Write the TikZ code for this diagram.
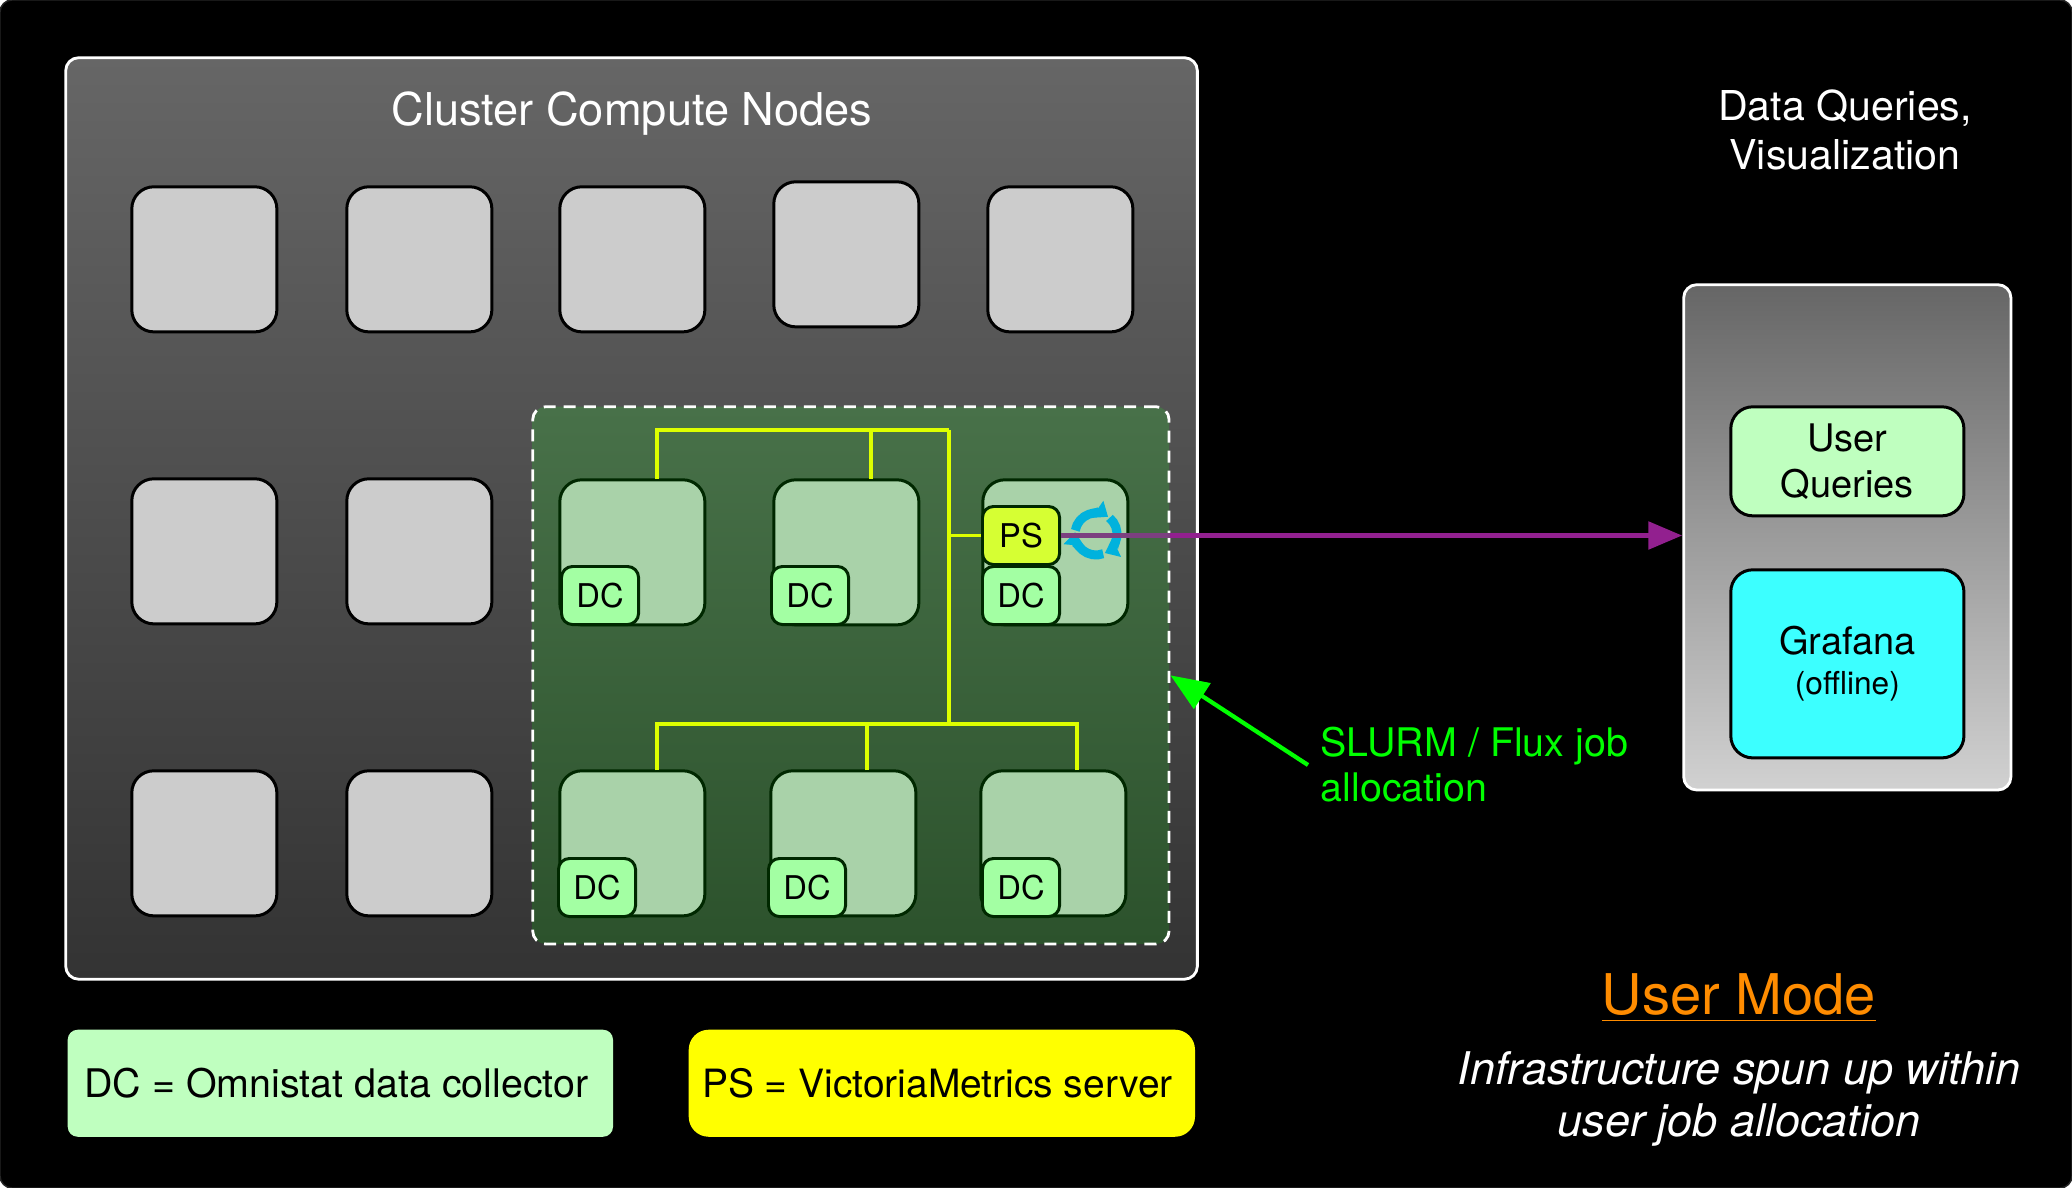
\documentclass[tikz,border=0pt]{standalone}
\usepackage{fontspec}
\setmainfont{TeX Gyre Heros}
\usetikzlibrary{arrows.meta}
\definecolor{nodegray}{HTML}{CCCCCC}
\definecolor{jobnode}{HTML}{A9D2A9}
\definecolor{jobedge}{HTML}{002800}
\definecolor{jobtop}{HTML}{487149}
\definecolor{jobbottom}{HTML}{2C522C}
\definecolor{dcfill}{HTML}{A3FFA3}
\definecolor{psfill}{HTML}{D6FF33}
\definecolor{legendgreen}{HTML}{BFFFBF}
\definecolor{legendyellow}{HTML}{FFFF00}
\definecolor{grafanacyan}{HTML}{3CFFFF}
\definecolor{slurmgreen}{HTML}{00FF00}
\definecolor{busyellow}{HTML}{DDFF00}
\definecolor{pushpurple}{HTML}{92208F}
\definecolor{pushmuted}{HTML}{7C4080}
\definecolor{refreshblue}{HTML}{00B2DD}
\definecolor{modeorange}{HTML}{FF8C00}
\newcommand{\fsize}[2]{\fontsize{#1}{#2}\selectfont}
\tikzset{
  nudged/.style={xshift=-0.007cm, yshift=0.007cm},
  panel/.style={nudged, draw=white, line width=0.8pt, rounded corners=0.13cm, anchor=north west, inner sep=0},
  compute/.style={nudged, draw=black, line width=0.85pt, fill=nodegray, rounded corners=0.22cm,
    minimum size=1.45cm, anchor=north west, inner sep=0},
  jobcompute/.style={compute, draw=jobedge, fill=jobnode},
  tag/.style={xshift=-0.02cm, yshift=0.01cm, draw=jobedge, line width=0.85pt, rounded corners=0.11cm,
    minimum width=0.77cm, minimum height=0.58cm, anchor=north west, inner sep=0, text=black, font=\fsize{9.3}{11}},
  dc/.style={tag, fill=dcfill},
  ps/.style={tag, fill=psfill},
  service/.style={nudged, draw=black, line width=0.85pt, rounded corners=0.22cm, minimum width=2.33cm,
    anchor=north west, inner sep=0, align=center, text=black},
  legend/.style={rounded corners=#1, anchor=north west, inner sep=0, minimum height=1.07cm, text=black},
  caption/.style={text=white, align=center, inner sep=0},
  bus/.style={draw=busyellow, line width=1.05pt},
  refresh/.style={draw=refreshblue, line width=0.09cm,
    -{Triangle[length=0.13cm,width=0.2cm]}}
}
\begin{document}
\begin{tikzpicture}[x=0.01cm, y=-0.01cm]
  \useasboundingbox (0,0) rectangle (2072,1188);
  \path[draw=black!85, fill=black, line width=0.4pt, rounded corners=0.12cm] (0,0) rectangle (2072,1188);

  % compute cluster
  \node[panel, top color=black!60, bottom color=black!80, minimum width=11.31cm, minimum height=9.21cm]
    (cluster) at (65,57) {};
  \node[caption, font=\fsize{12.85}{14}] (clustertitle) at (632,114) {Cluster Compute Nodes};

  \node[compute] (cn1) at (131,186) {};
  \node[compute] (cn2) at (346,186) {};
  \node[compute] (cn3) at (559,186) {};
  \node[compute] (cn4) at (773,181) {};
  \node[compute] (cn5) at (987,186) {};
  \node[compute] (cn6) at (131,478) {};
  \node[compute] (cn7) at (346,478) {};
  \node[compute] (cn8) at (131,770) {};
  \node[compute] (cn9) at (346,770) {};

  % job allocation
  \node[panel, dash pattern=on 0.12cm off 0.08cm, top color=jobtop, bottom color=jobbottom,
    minimum width=6.36cm, minimum height=5.37cm] (jobarea) at (532,406) {};

  \node[jobcompute] (job1) at (559,479) {};
  \node[jobcompute] (job2) at (773,479) {};
  \node[jobcompute] (job3) at (982,479) {};
  \node[jobcompute] (job4) at (559,770) {};
  \node[jobcompute] (job5) at (770,770) {};
  \node[jobcompute] (job6) at (980,770) {};

  \node[dc] (dc1) at (562,566) {DC};
  \node[dc] (dc2) at (772,566) {DC};
  \node[dc] (dc3) at (983,566) {DC};
  \node[dc] (dc4) at (559,858) {DC};
  \node[dc] (dc5) at (769,858) {DC};
  \node[dc] (dc6) at (983,858) {DC};
  \node[ps] (vm) at (983,506) {PS};

  % collectors report to the server
  \coordinate (bustop) at (949,430);
  \coordinate (busbottom) at (949,724);
  \coordinate (tap1) at (657,479);
  \coordinate (tap2) at (871,479);
  \coordinate (tap4) at (657,770);
  \coordinate (tap5) at (867,770);
  \coordinate (tap6) at (1077,770);
  \draw[bus] (tap1) |- (bustop);
  \draw[bus] (tap2) |- (bustop);
  \draw[bus] (bustop) -- (busbottom);
  \draw[bus] (tap4) |- (busbottom);
  \draw[bus] (tap5) |- (busbottom);
  \draw[bus] (tap6) |- (busbottom);
  \draw[bus] (vm.west) -- (vm.west -| bustop);

  % refresh icon
  \coordinate (spin) at (1096,534);
  \draw[refresh] (spin) ++(190:21) arc (190:305:21);
  \draw[refresh] (spin) ++(310:21) arc (310:425:21);
  \draw[refresh] (spin) ++(70:21) arc (70:185:21);

  % data queries
  \node[panel, top color=black!60, bottom color=black!18, minimum width=3.27cm, minimum height=5.05cm]
    (viewbox) at (1683,284) {};
  \node[caption, font=\fsize{11.7}{14}] (viewtitle) at (1845,130) {Data Queries,\\Visualization};
  \node[service, fill=legendgreen, minimum height=1.09cm, font=\fsize{10.8}{13}]
    (queries) at (1730,406) {User\\Queries};
  \node[service, fill=grafanacyan, minimum height=1.88cm, font=\fsize{10.8}{11.4}, yshift=-0.04cm]
    (grafana) at (1730,565) {Grafana\\{\fsize{9}{11}(offline)}};

  \draw[pushpurple, line width=1.55pt, -{Triangle[length=0.34cm,width=0.27cm]}] (vm.east) -- (vm.east -| viewbox.west);
  \draw[pushmuted, line width=1.55pt] (vm.east) -- (vm.east -| jobarea.east);

  % slurm label
  \node[text=slurmgreen, align=left, inner sep=0.12cm, anchor=west, font=\fsize{11.2}{12.8}]
    (slurm) at (1308,765) {SLURM / Flux job\\allocation};
  \draw[slurmgreen, line width=1.2pt, -{Triangle[length=0.38cm,width=0.3cm]}] (slurm.west) -- (jobarea.east);

  % legend
  \node[legend=0.1cm, fill=legendgreen, minimum width=5.45cm, font=\fsize{11.2}{13}] (dclegend) at (67,1029)
    {DC = Omnistat data collector\kern0.08cm};
  \node[legend=0.2cm, fill=legendyellow, minimum width=5.06cm, font=\fsize{11.08}{13}] (pslegend) at (688,1029)
    {PS = VictoriaMetrics server\kern0.09cm};

  % mode
  \node[text=modeorange, inner sep=0, font=\fsize{15.95}{18}] (mode) at (1739,998) {\underline{User Mode}};
  \node[caption, font=\fsize{12.8}{14.7}\itshape] (modetext) at (1739,1099)
    {Infrastructure spun up within\\user job allocation};
\end{tikzpicture}
\end{document}
